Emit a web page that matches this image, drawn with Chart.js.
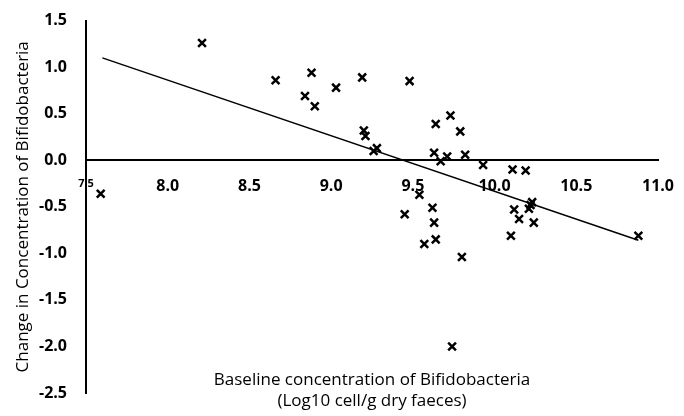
<!DOCTYPE html>
<html>
<head>
<meta charset="utf-8">
<script src="https://cdn.jsdelivr.net/npm/chart.js@4/dist/chart.umd.min.js"></script>
<style>
    html, body { margin: 0; padding: 0; background: #fff; }
    canvas { display: block; }
</style>
</head>
<body>
<canvas id="bifidoChart" width="684" height="416"></canvas>
<script>
// baseline (log10 cell/g) and change, one entry per subject
const baseline = [7.59, 8.21, 8.66, 8.84, 8.88, 8.90, 9.03, 9.19, 9.20, 9.21,
    9.26, 9.28, 9.45, 9.48, 9.54, 9.57, 9.62, 9.63, 9.63, 9.64,
    9.64, 9.67, 9.71, 9.73, 9.74, 9.79, 9.80, 9.82, 9.93, 10.10,
    10.11, 10.12, 10.15, 10.19, 10.21, 10.22, 10.23, 10.24, 10.88];
const change = [-0.36, 1.26, 0.86, 0.69, 0.94, 0.58, 0.78, 0.89, 0.32, 0.26,
    0.10, 0.13, -0.58, 0.85, -0.37, -0.90, -0.51, 0.08, -0.67, 0.39,
    -0.85, -0.01, 0.04, 0.48, -2.00, 0.31, -1.04, 0.06, -0.05, -0.81,
    -0.10, -0.53, -0.63, -0.11, -0.52, -0.48, -0.45, -0.67, -0.81];

// linear trend line end points
const trendX = [7.6, 10.88];
const trendY = [1.10, -0.86];

const xRange = [7.5, 11.0];
const yRange = [-2.5, 1.5];
const tickStep = 0.5;

const xTitle = ["Baseline concentration of Bifidobacteria", "(Log10 cell/g dry faeces)"];
const yTitle = "Change in Concentration of Bifidobacteria";

const FONT = "'Open Sans', sans-serif";

const xTitlePlugin = {
    id: "xTitle",
    afterDraw(chart) {
        const ctx = chart.ctx;
        const area = chart.chartArea;
        const cx = (area.left + area.right) / 2;
        ctx.save();
        ctx.fillStyle = "#000";
        ctx.font = "17px " + FONT;
        ctx.textAlign = "center";
        ctx.textBaseline = "middle";
        ctx.fillText(xTitle[0], cx, 380);
        ctx.fillText(xTitle[1], cx, 401);
        ctx.restore();
    }
};

const points = baseline.map((x, i) => ({ x: x, y: change[i] }));
const trend = trendX.map((x, i) => ({ x: x, y: trendY[i] }));

new Chart(document.getElementById("bifidoChart").getContext("2d"), {
    type: "scatter",
    data: {
        datasets: [
            {
                data: points,
                pointStyle: "crossRot",
                pointRadius: 5.5,
                pointHoverRadius: 5.5,
                borderColor: "#000",
                backgroundColor: "#000",
                pointBorderWidth: 2.5
            },
            {
                type: "line",
                data: trend,
                borderColor: "#000",
                borderWidth: 1.5,
                pointRadius: 0,
                fill: false
            }
        ]
    },
    options: {
        responsive: false,
        animation: false,
        layout: { padding: { left: 0, right: 26, top: 20, bottom: 23 } },
        plugins: {
            legend: { display: false },
            tooltip: { enabled: false }
        },
        scales: {
            x: {
                type: "linear",
                position: { y: 0 },
                min: xRange[0],
                max: xRange[1],
                grid: { display: false },
                border: { display: true, color: "#000", width: 2 },
                ticks: {
                    stepSize: tickStep,
                    padding: 9,
                    color: "#000",
                    maxRotation: 0,
                    font: (c) => ({ family: FONT, weight: "bold", size: c.index === 0 ? 11 : 16 }),
                    callback: (v) => v.toFixed(1)
                }
            },
            y: {
                type: "linear",
                position: "left",
                min: yRange[0],
                max: yRange[1],
                grid: { display: false },
                border: { display: true, color: "#000", width: 2 },
                ticks: {
                    stepSize: tickStep,
                    padding: 11,
                    color: "#000",
                    font: { family: FONT, weight: "bold", size: 16 },
                    callback: (v) => v.toFixed(1)
                },
                title: {
                    display: true,
                    text: yTitle,
                    color: "#000",
                    font: { family: FONT, size: 17 },
                    padding: { top: 13, bottom: 0 }
                },
                afterFit: (scale) => { scale.width = 86; }
            }
        }
    },
    plugins: [xTitlePlugin]
});
</script>
</body>
</html>
